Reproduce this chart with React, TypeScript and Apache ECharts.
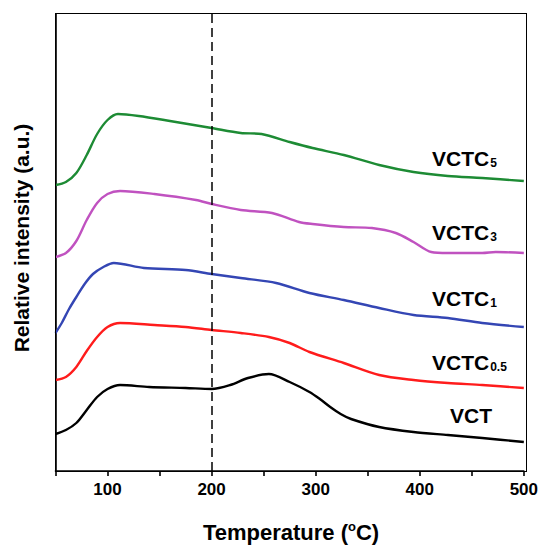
import React, { useEffect, useRef } from "react";
import * as echarts from "echarts";

// Temperature-programmed profiles, each trace offset vertically (a.u.)
const tempVCTC5 = [50, 60, 70, 80, 90, 100, 110, 130, 160, 200, 228, 248, 275, 297, 327, 361, 394, 427, 460, 500];
const valVCTC5 = [286, 289, 298, 316, 337, 351, 357, 355, 350, 343, 338, 337, 329, 323, 316, 306, 299, 295, 293, 290];

const tempVCTC3 = [50, 60, 70, 80, 90, 100, 112, 145, 185, 200, 228, 258, 284, 297, 327, 354, 377, 394, 411, 427, 460, 473, 500];
const valVCTC3 = [214, 218, 230, 251, 268, 277, 280, 277, 271, 267, 261, 258, 249, 247, 244, 243, 238, 229, 219, 218, 218, 219, 218];

const tempVCTC1 = [50, 56, 63, 70, 78, 86, 96, 106, 135, 175, 200, 228, 262, 294, 327, 361, 394, 427, 460, 500];
const valVCTC1 = [138, 148, 162, 174, 187, 197, 204, 208, 203, 201, 197, 193, 188, 178, 171, 163, 156, 153, 148, 144];

const tempVCTC05 = [50, 60, 70, 80, 90, 100, 112, 145, 175, 200, 228, 255, 275, 294, 327, 361, 394, 427, 460, 500];
const valVCTC05 = [91, 94, 104, 120, 134, 144, 148, 146, 144, 141, 138, 134, 128, 119, 108, 96, 91, 88, 86, 83];

const tempVCT = [50, 60, 70, 80, 90, 100, 112, 140, 175, 200, 218, 235, 255, 275, 294, 304, 314, 324, 334, 361, 394, 427, 460, 500];
const valVCT = [37, 41, 48, 61, 74, 82, 86, 84, 83, 82, 86, 93, 97, 89, 79, 72, 64, 57, 52, 44, 39, 36, 33, 29];

const xTicks = [100, 200, 300, 400, 500];
const markerTemp = 200;
const X_MIN = 50;
const X_MAX = 500;
const Y_MIN = 0;
const Y_MAX = 457;

const FONT = "'Liberation Sans', Arial, sans-serif";

const GRID = { left: 55.5, right: 14.5, top: 14, bottom: 74 };
const W = 541;
const H = 545;
const FRAME_W = 1.6;

function pairs(t: number[], v: number[]) {
  return t.map((x, i) => [x, v[i]]);
}

export default function App() {
  const ref = useRef<HTMLDivElement>(null);

  useEffect(() => {
    if (!ref.current) return;
    const chart = echarts.init(ref.current, null, { renderer: "svg" });

    const line = (name: string, color: string, t: number[], v: number[], extra: any = {}) => ({
      name,
      type: "line",
      data: pairs(t, v),
      smooth: 0.3,
      showSymbol: false,
      lineStyle: { color, width: 2.4 },
      ...extra,
    });

    const labelRich = {
      m: { fontFamily: FONT, fontWeight: "bold", fontSize: 21, color: "#000" },
      s: { fontFamily: FONT, fontWeight: "bold", fontSize: 12, color: "#000", padding: [9, 0, 0, 1] },
    };

    const traceLabel = (text: string, x: number, y: number) => ({
      type: "text",
      x,
      y,
      style: {
        text,
        rich: labelRich,
        verticalAlign: "middle",
        align: "left",
      },
    });

    chart.setOption({
      animation: false,
      backgroundColor: "#fff",
      grid: GRID,
      xAxis: {
        type: "value",
        min: X_MIN,
        max: X_MAX,
        interval: 50,
        axisLine: { show: true, onZero: false, lineStyle: { color: "#000", width: FRAME_W } },
        axisTick: { show: true, inside: false, length: 5, lineStyle: { color: "#000", width: FRAME_W } },
        splitLine: { show: false },
        axisLabel: {
          color: "#000",
          fontFamily: FONT,
          fontWeight: "bold",
          fontSize: 17,
          margin: 10,
          formatter: (v: number) => (xTicks.includes(v) ? String(v) : ""),
        },
      },
      yAxis: {
        type: "value",
        min: Y_MIN,
        max: Y_MAX,
        axisLine: { show: true, onZero: false, lineStyle: { color: "#000", width: FRAME_W } },
        axisTick: { show: false },
        axisLabel: { show: false },
        splitLine: { show: false },
      },
      series: [
        line("VCTC5", "#1d8b34", tempVCTC5, valVCTC5),
        line("VCTC3", "#c052c0", tempVCTC3, valVCTC3),
        line("VCTC1", "#3446b4", tempVCTC1, valVCTC1),
        line("VCTC0.5", "#ff1c1c", tempVCTC05, valVCTC05),
        line("VCT", "#000000", tempVCT, valVCT, {
          markLine: {
            silent: true,
            symbol: "none",
            label: { show: false },
            lineStyle: { color: "#000", width: 1.5, type: [9, 5] },
            data: [{ xAxis: markerTemp }],
          },
        }),
      ],
      graphic: [
        traceLabel("{m|VCTC}{s|5}", 432, 158),
        traceLabel("{m|VCTC}{s|3}", 432, 232),
        traceLabel("{m|VCTC}{s|1}", 432, 298),
        traceLabel("{m|VCTC}{s|0.5}", 432, 362),
        traceLabel("{m|VCT}", 450, 415),
        {
          type: "text",
          x: 291,
          y: 532,
          style: {
            text: "{m|Temperature (}{u|o}{m|C)}",
            align: "center",
            verticalAlign: "middle",
            rich: {
              m: { fontFamily: FONT, fontWeight: "bold", fontSize: 22, color: "#000" },
              u: { fontFamily: FONT, fontWeight: "bold", fontSize: 13, color: "#000", padding: [0, 0, 11, 0] },
            },
          },
        },
        {
          type: "text",
          x: 21,
          y: 238,
          rotation: Math.PI / 2,
          style: {
            text: "Relative intensity (a.u.)",
            align: "center",
            verticalAlign: "middle",
            fontFamily: FONT,
            fontWeight: "bold",
            fontSize: 21,
            fill: "#000",
          },
        },
      ],
    });

    return () => chart.dispose();
  }, []);

  const plotW = W - GRID.left - GRID.right;
  const plotH = H - GRID.top - GRID.bottom;

  return (
    <div style={{ position: "fixed", left: 0, top: 0, width: W, height: H }}>
      <div ref={ref} style={{ position: "absolute", left: 0, top: 0, width: W, height: H }} />
      {/* plot frame */}
      <div
        style={{
          position: "absolute",
          left: GRID.left - FRAME_W / 2,
          top: GRID.top - FRAME_W / 2,
          width: plotW + FRAME_W,
          height: plotH + FRAME_W,
          border: `${FRAME_W}px solid #000`,
          boxSizing: "border-box",
          pointerEvents: "none",
        }}
      />
    </div>
  );
}
